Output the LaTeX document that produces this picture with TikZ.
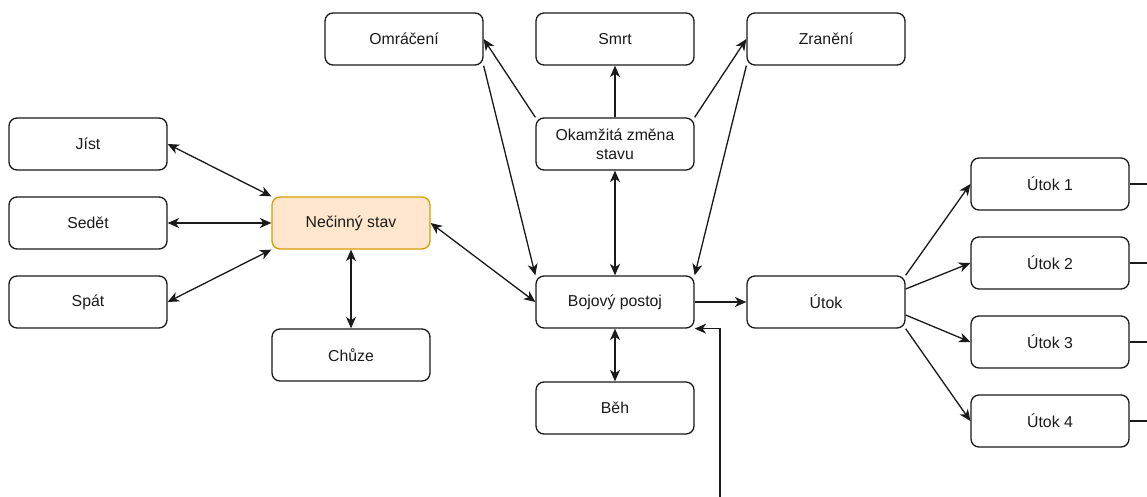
\documentclass[tikz,border=0pt]{standalone}
\usepackage{fontspec}
\setmainfont{Liberation Sans}
\usepackage{tikz}
\usetikzlibrary{arrows.meta, positioning}
\definecolor{Ink}{HTML}{1A1A1A}
\definecolor{IdleFill}{HTML}{FFE6CC}
\definecolor{IdleLine}{HTML}{D79B00}

\begin{document}
\begin{tikzpicture}[
  x=0.02cm, y=-0.02cm,
  font=\fontsize{9}{10.8}\selectfont,
  state/.style={rounded corners=0.16cm, draw=Ink, line width=0.75pt, align=center, minimum width=3.16cm, minimum height=1.04cm, inner sep=1pt, fill=white, text=Ink},
  idle/.style={state, fill=IdleFill, draw=IdleLine},
  arrow/.style={-{Stealth[length=2.3mm, width=2mm, inset=0.7mm]}, line width=0.75pt, draw=Ink},
  twoway/.style={arrow, {Stealth[length=2.3mm, width=2mm, inset=0.7mm]}-{Stealth[length=2.3mm, width=2mm, inset=0.7mm]}},
  link/.style={line width=0.75pt, draw=Ink}
]
\useasboundingbox (0,0) rectangle (1147,497);

\node[state] (jist) at (88,144) {Jíst};
\node[state] (sedet) at (88,223) {Sedět};
\node[state] (spat) at (88,302) {Spát};
\node[idle] (necinny) at (351,223) {Nečinný stav};
\node[state] (chuze) at (351,355) {Chůze};
\node[state] (omraceni) at (404,39) {Omráčení};
\node[state] (smrt) at (615,39) {Smrt};
\node[state] (zraneni) at (826,39) {Zranění};
\node[state] (zmena) at (615,144) {Okamžitá změna\\stavu};
\node[state] (bojovy) at (615,302) {Bojový postoj};
\node[state] (beh) at (615,408) {Běh};
\node[state] (utok) at (826,302) {Útok};
\node[state] (utok1) at (1050,184) {Útok 1};
\node[state] (utok2) at (1050,263) {Útok 2};
\node[state] (utok3) at (1050,342) {Útok 3};
\node[state] (utok4) at (1050,421) {Útok 4};

\coordinate (out1) at (1147,184);
\coordinate (out2) at (1147,263);
\coordinate (out3) at (1147,342);
\coordinate (out4) at (1147,421);
\coordinate (comeback) at (720,497);

\draw[twoway] (jist.east) -- (necinny.north west);
\draw[twoway] (sedet.east) -- (necinny.west);
\draw[twoway] (spat.east) -- (necinny.south west);
\draw[twoway] (necinny.south) -- (chuze.north);
\draw[twoway] (necinny.east) -- (bojovy.west);
\draw[twoway] (zmena.south) -- (bojovy.north);
\draw[twoway] (bojovy.south) -- (beh.north);
\draw[arrow] (zmena.north) -- (smrt.south);
\draw[arrow] (zmena.north west) -- (omraceni.east);
\draw[arrow] (zmena.north east) -- (zraneni.west);
\draw[arrow] (omraceni.south east) -- (bojovy.north west);
\draw[arrow] (zraneni.south west) -- (bojovy.north east);
\draw[arrow] (bojovy.east) -- (utok.west);
\draw[arrow] (utok.north east) -- (utok1.west);
\draw[arrow] ([yshift=0.26cm]utok.east) -- (utok2.west);
\draw[arrow] ([yshift=-0.26cm]utok.east) -- (utok3.west);
\draw[arrow] (utok.south east) -- (utok4.west);
\draw[arrow] (comeback) |- (bojovy.south east);
\draw[link] (utok1.east) -- (out1);
\draw[link] (utok2.east) -- (out2);
\draw[link] (utok3.east) -- (out3);
\draw[link] (utok4.east) -- (out4);
\end{tikzpicture}
\end{document}
